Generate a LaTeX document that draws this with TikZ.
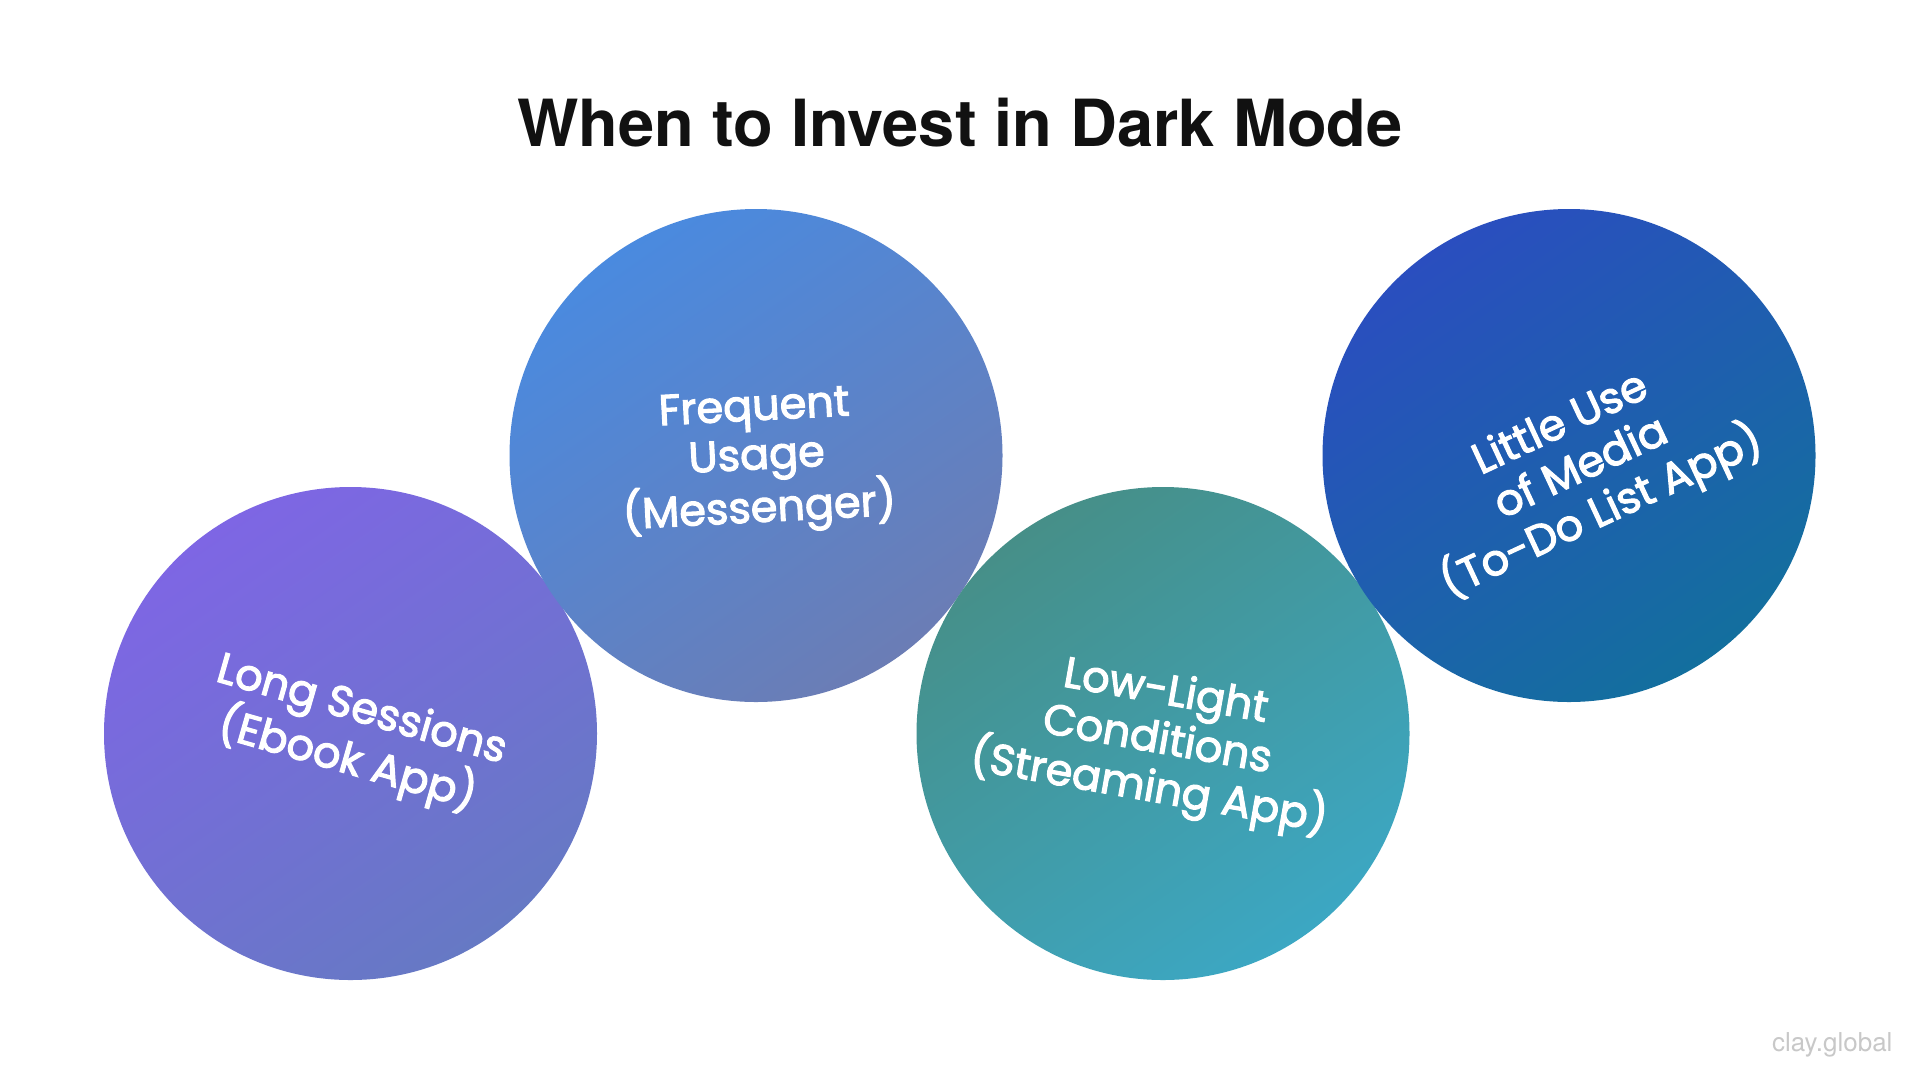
\documentclass[tikz,border=0pt]{standalone}
\usepackage{fontspec}
\setmainfont{TeX Gyre Heros}
\newfontfamily\circfont{Poppins}[FakeBold=2.6]
\definecolor{aTop}{HTML}{7E66E4}\definecolor{aBot}{HTML}{6679C4}
\definecolor{bTop}{HTML}{4A8ADF}\definecolor{bBot}{HTML}{6B7DB5}
\definecolor{cTop}{HTML}{468F88}\definecolor{cBot}{HTML}{3CA7C3}
\definecolor{dTop}{HTML}{2A4EBF}\definecolor{dBot}{HTML}{136F9E}
\definecolor{ink}{HTML}{111111}
\definecolor{wm}{HTML}{C8C8C8}
\begin{document}
\begin{tikzpicture}[x=1pt,y=-1pt,
  blob/.style n args={2}{circle,inner sep=0pt,minimum size=493pt,top color=#1,bottom color=#2,shading angle=35,draw=none},
  lbl/.style={text=white,align=center,font=\circfont\fontsize{43}{49}\selectfont}]
\useasboundingbox (0,0) rectangle (1920,1080);
\fill[white] (0,0) rectangle (1920,1080);
\node[font=\bfseries\fontsize{65}{78}\selectfont,text=ink] (title) at (960,123) {When to Invest in Dark Mode};
\node[blob={aTop}{aBot}] (c1) at (350.5,733.5) {};
\node[blob={bTop}{bBot}] (c2) at (756,455.5) {};
\node[blob={cTop}{cBot}] (c3) at (1163,733.5) {};
\node[blob={dTop}{dBot}] (c4) at (1569,455.5) {};
\node[lbl,rotate=-16] (t1) at (354,737) {Long Sessions\\(Ebook App)};
\node[lbl,rotate=3] (t2) at (757,462) {Frequent\\Usage\\(Messenger)};
\node[lbl,rotate=-10] (t3) at (1157,742) {Low-Light\\Conditions\\(Streaming App)};
\node[lbl,rotate=25] (t4) at (1582,470) {Little Use\\of Media\\(To-Do List App)};
\node[anchor=east,text=wm,font=\fontsize{26}{30}\selectfont] (wmk) at (1896,1045) {clay.global};
\end{tikzpicture}
\end{document}
